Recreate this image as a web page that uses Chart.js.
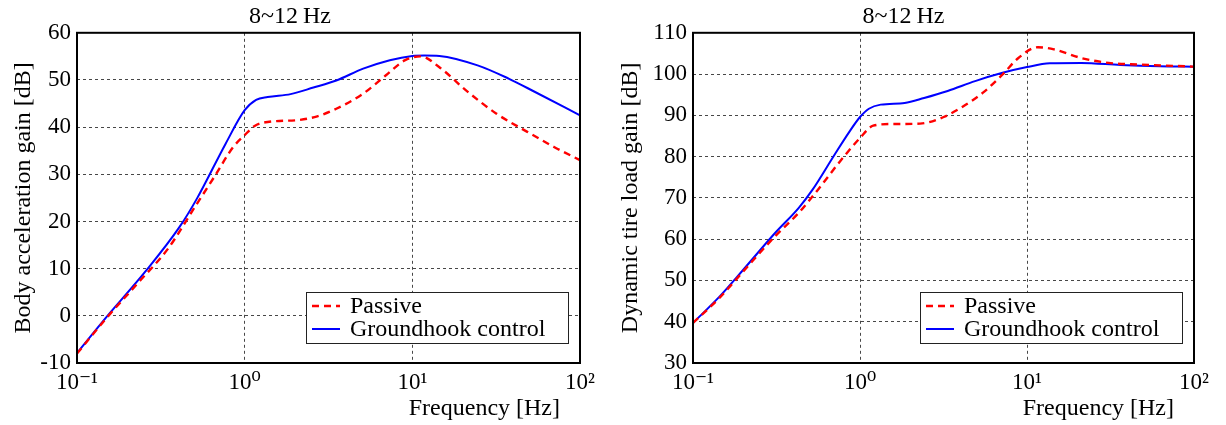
<!DOCTYPE html>
<html>
<head>
<meta charset="utf-8">
<script src="https://cdn.jsdelivr.net/npm/chart.js@4/dist/chart.umd.min.js"></script>
<style>
  body { margin: 0; background: #fff; }
  .wrap { position: absolute; top: 0; width: 613px; height: 425px; }
</style>
</head>
<body>
<div class="wrap" style="left:0"><canvas id="accChart" width="613" height="425"></canvas></div>
<div class="wrap" style="left:613px"><canvas id="tireChart" width="613" height="425"></canvas></div>
<script>
const titleText = "8~12\u2009Hz";
const seriesLabels = ["Passive", "Groundhook control"];
const freqTicks = [0.1, 1, 10, 100];
const freqTickLabels = ["10\u207B\u00B9", "10\u2070", "10\u00B9", "10\u00B2"];

// body acceleration gain [dB]
const accPassiveFreq = [0.1, 0.148, 0.23, 0.35, 0.505, 0.66, 0.855, 1, 1.14, 1.37, 2.08, 2.71, 3.52, 5.09, 6.96, 9.06, 11.2, 14.5, 20.9, 31.6, 48.5, 70, 100];
const accPassive = [-8, -0.7, 6.9, 14.3, 23.1, 29.5, 35.8, 38.3, 40.2, 41.1, 41.5, 42.3, 43.9, 47.1, 51.0, 54.2, 55.0, 52.7, 47.8, 42.9, 39.0, 35.8, 33.0];
const accGroundFreq = [0.1, 0.148, 0.256, 0.41, 0.52, 0.77, 1, 1.17, 1.37, 1.88, 2.57, 3.52, 5.09, 7.34, 10, 11.8, 14.5, 24.5, 37.5, 53.6, 100];
const accGround = [-7.9, -0.5, 9.4, 18.9, 24.9, 36.5, 43.6, 45.8, 46.4, 47.0, 48.4, 49.9, 52.4, 54.2, 55.1, 55.2, 55.1, 53.1, 50.3, 47.5, 42.5];

// dynamic tire load gain [dB]
const tirePassiveFreq = [0.1, 0.145, 0.2, 0.31, 0.43, 0.56, 0.775, 1, 1.2, 1.57, 2.29, 3.17, 4.16, 5.45, 7.14, 8.88, 11.6, 14.5, 21.1, 30.8, 47.6, 100];
const tirePassive = [39.7, 45.9, 52.2, 60.7, 66.4, 72.0, 79.3, 84.5, 87.5, 87.9, 88.0, 89.6, 92.2, 95.5, 99.9, 103.9, 106.5, 106.0, 103.9, 102.7, 102.3, 101.8];
const tireGroundFreq = [0.1, 0.145, 0.2, 0.31, 0.43, 0.52, 0.695, 0.863, 1, 1.13, 1.33, 1.85, 2.42, 3.35, 4.89, 7.14, 10, 13.7, 21.1, 36.3, 62.4, 100];
const tireGround = [39.7, 46.2, 52.6, 61.5, 67.6, 72.0, 80.1, 86.0, 89.6, 91.6, 92.6, 93.0, 94.2, 95.9, 98.3, 100.3, 101.7, 102.6, 102.7, 102.2, 101.9, 101.8];

const serif = "'Liberation Serif', 'DejaVu Serif', serif";

function points(xs, ys) {
  return xs.map(function (x, i) { return { x: x, y: ys[i] }; });
}

// frame, legend in the lower right of the plot, x axis title
const framePlugin = {
  id: "frame",
  afterDraw: function (chart, args, opts) {
    const ctx = chart.ctx;
    const a = chart.chartArea;
    ctx.save();
    ctx.strokeStyle = "#000";
    ctx.lineWidth = 2;
    ctx.strokeRect(a.left, a.top, a.right - a.left, a.bottom - a.top);

    const bh = 51;
    const bx = a.right - opts.legendRight - opts.legendWidth;
    const by = a.bottom - opts.legendBottom - bh;
    ctx.fillStyle = "#fff";
    ctx.fillRect(bx, by, opts.legendWidth, bh);
    ctx.lineWidth = 1;
    ctx.strokeStyle = "#222";
    ctx.strokeRect(bx + 0.5, by + 0.5, opts.legendWidth, bh);
    ctx.font = "24px " + serif;
    ctx.textBaseline = "middle";
    chart.data.datasets.forEach(function (ds, i) {
      const y = by + 14 + i * 23;
      ctx.beginPath();
      ctx.strokeStyle = ds.borderColor;
      ctx.lineWidth = ds.borderWidth;
      ctx.setLineDash(ds.borderDash || []);
      ctx.moveTo(bx + 6, y);
      ctx.lineTo(bx + 34, y);
      ctx.stroke();
      ctx.setLineDash([]);
      ctx.fillStyle = "#000";
      ctx.fillText(ds.label, bx + 44, y + 1);
    });

    ctx.font = "24px " + serif;
    ctx.textAlign = "right";
    ctx.textBaseline = "alphabetic";
    ctx.fillText("Frequency [Hz]", a.right - opts.xTitleRight, 415);
    ctx.restore();
  }
};

function makeChart(id, cfg) {
  const ctx = document.getElementById(id).getContext("2d");
  return new Chart(ctx, {
    type: "line",
    data: {
      datasets: [
        {
          label: seriesLabels[0],
          data: points(cfg.passiveFreq, cfg.passive),
          borderColor: "#ff0000",
          borderWidth: 2.4,
          borderDash: [7, 5],
          pointRadius: 0,
          cubicInterpolationMode: "monotone",
          fill: false,
        },
        {
          label: seriesLabels[1],
          data: points(cfg.groundFreq, cfg.ground),
          borderColor: "#0000ff",
          borderWidth: 2,
          pointRadius: 0,
          cubicInterpolationMode: "monotone",
          fill: false,
        },
      ],
    },
    options: {
      responsive: false,
      animation: false,
      layout: { padding: { left: 0, right: cfg.padRight, top: 0, bottom: 0 } },
      plugins: {
        legend: { display: false },
        tooltip: { enabled: false },
        title: {
          display: true,
          text: titleText,
          color: "#000",
          font: { family: serif, size: 24, weight: "normal" },
          padding: { top: 2, bottom: 2 },
        },
        frame: {
          legendWidth: 262,
          legendRight: 12,
          legendBottom: 20,
          xTitleRight: 20,
        },
      },
      scales: {
        x: {
          type: "logarithmic",
          min: 0.1,
          max: 100,
          afterBuildTicks: function (scale) {
            scale.ticks = freqTicks.map(function (v) { return { value: v }; });
          },
          afterFit: function (scale) { scale.height = 62; },
          border: { display: false, dash: [3, 3] },
          grid: {
            color: "#333",
            lineWidth: 0.9,
            drawTicks: false,
          },
          ticks: {
            color: "#000",
            padding: 6,
            maxRotation: 0,
            font: { family: serif, size: 23 },
            callback: function (v) {
              const i = freqTicks.indexOf(v);
              return i >= 0 ? freqTickLabels[i] : "";
            },
          },
        },
        y: {
          min: cfg.yMin,
          max: cfg.yMax,
          afterFit: function (scale) { scale.width = cfg.yWidth; },
          border: { display: false, dash: [3, 3] },
          grid: {
            color: "#333",
            lineWidth: 0.9,
            drawTicks: false,
          },
          ticks: {
            stepSize: 10,
            color: "#000",
            padding: 6,
            font: { family: serif, size: 23 },
          },
          title: {
            display: true,
            text: cfg.yTitle,
            color: "#000",
            font: { family: serif, size: 24 },
            padding: { top: cfg.yTitlePad, bottom: 0 },
          },
        },
      },
    },
    plugins: [framePlugin],
  });
}

makeChart("accChart", {
  passiveFreq: accPassiveFreq, passive: accPassive,
  groundFreq: accGroundFreq, ground: accGround,
  yMin: -10, yMax: 60, yWidth: 77, padRight: 33, yTitlePad: 9,
  yTitle: "Body acceleration gain [dB]",
});
makeChart("tireChart", {
  passiveFreq: tirePassiveFreq, passive: tirePassive,
  groundFreq: tireGroundFreq, ground: tireGround,
  yMin: 30, yMax: 110, yWidth: 80, padRight: 32, yTitlePad: 3,
  yTitle: "Dynamic tire load gain [dB]",
});
</script>
</body>
</html>
